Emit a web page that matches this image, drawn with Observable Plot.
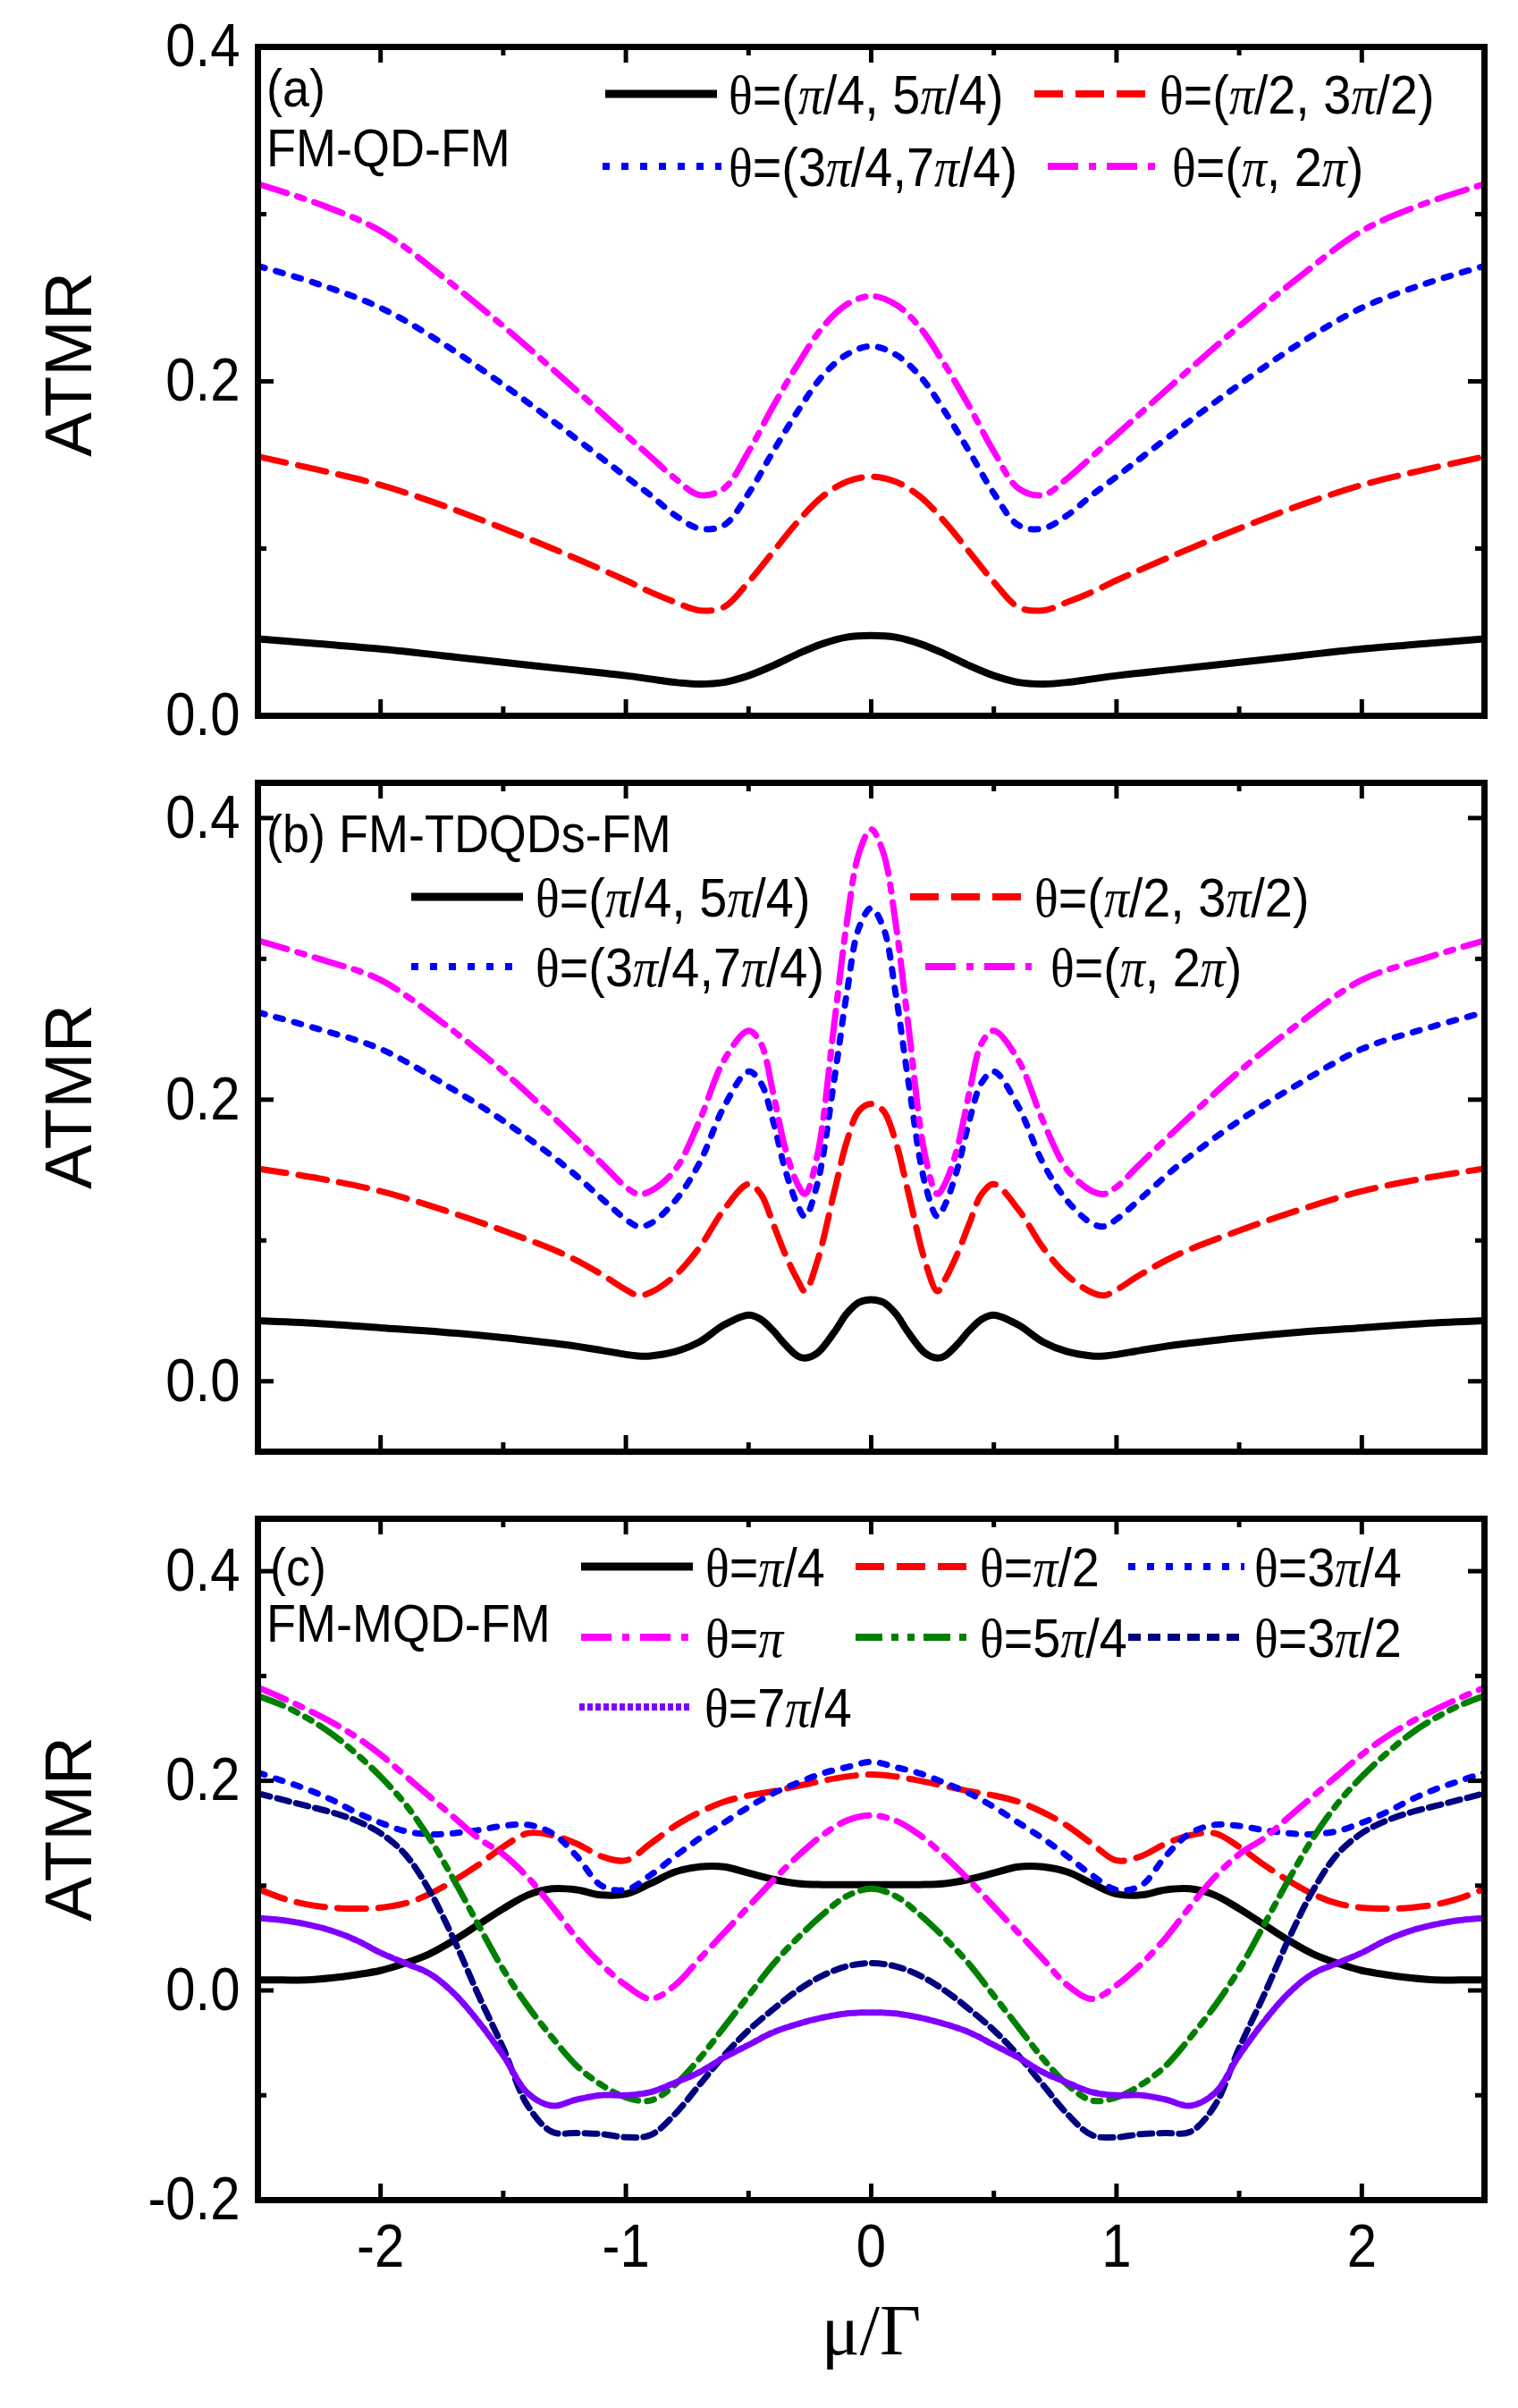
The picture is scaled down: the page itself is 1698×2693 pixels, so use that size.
<!DOCTYPE html>
<html>
<head>
<meta charset="utf-8">
<script src="https://cdn.jsdelivr.net/npm/d3@7"></script>
<script src="https://cdn.jsdelivr.net/npm/@observablehq/plot@0.6"></script>
<style>
  body { margin: 0; background: #fff; }
  #chart svg { display: block; }
</style>
</head>
<body>
<div id="chart"></div>
<script>
// ---- panel (a) FM-QD-FM ----
const xA = [-2.5,-2.25,-2,-1.75,-1.5,-1.25,-1,-0.9,-0.8,-0.7,-0.6,-0.5,-0.4,-0.3,-0.2,-0.1,0,
  0.1,0.2,0.3,0.4,0.5,0.6,0.7,0.8,0.9,1,1.25,1.5,1.75,2,2.25,2.5];
const aPi4 = [.046,.043,.040,.036,.032,.028,.024,.022,.020,.019,.020,.024,.030,.037,.043,.047,.048,
  .047,.043,.037,.030,.024,.020,.019,.020,.022,.024,.028,.032,.036,.040,.043,.046];
const aPi2 = [.155,.147,.138,.126,.112,.097,.081,.074,.068,.063,.065,.080,.098,.116,.131,.140,.143,
  .140,.131,.116,.098,.080,.065,.063,.068,.074,.081,.097,.112,.126,.138,.147,.155];
const a3Pi4 = [.269,.258,.244,.223,.198,.171,.143,.132,.120,.112,.114,.133,.158,.182,.203,.216,.221,
  .216,.203,.182,.158,.133,.114,.112,.120,.132,.143,.171,.198,.223,.244,.258,.269];
const aPi = [.318,.306,.290,.263,.233,.201,.168,.155,.142,.132,.136,.158,.185,.210,.232,.246,.251,
  .246,.232,.210,.185,.158,.136,.132,.142,.155,.168,.201,.233,.263,.290,.306,.318];

// ---- panel (b) FM-TDQDs-FM ----
const xB = [-2.5,-2.25,-2,-1.75,-1.5,-1.25,-1.1,-1,-0.95,-0.9,-0.8,-0.7,-0.6,-0.5,-0.45,-0.4,-0.35,-0.3,-0.27,-0.22,-0.15,-0.1,-0.05,0,
  0.05,0.1,0.15,0.22,0.27,0.3,0.35,0.4,0.45,0.5,0.6,0.7,0.8,0.9,0.95,1,1.1,1.25,1.5,1.75,2,2.25,2.5];
const bPi4 = [.043,.041,.038,.035,.031,.026,.022,.019,.018,.018,.021,.028,.040,.047,.044,.036,.026,.018,.0165,.020,.035,.048,.056,.058,
  .056,.048,.035,.020,.0165,.018,.026,.036,.044,.047,.040,.028,.021,.018,.018,.019,.022,.026,.031,.035,.038,.041,.043];
const bPi2 = [.151,.144,.135,.122,.107,.090,.076,.065,.061,.063,.075,.095,.122,.140,.133,.112,.090,.072,.064,.085,.135,.170,.192,.197,
  .192,.170,.135,.085,.064,.072,.090,.112,.133,.140,.122,.095,.075,.063,.061,.065,.076,.090,.107,.122,.135,.144,.151];
const b3Pi4 = [.262,.250,.236,.212,.185,.153,.130,.115,.110,.112,.128,.155,.195,.220,.212,.185,.150,.125,.117,.140,.215,.275,.322,.336,
  .322,.275,.215,.140,.117,.125,.150,.185,.212,.220,.195,.155,.128,.112,.110,.115,.130,.153,.185,.212,.236,.250,.262];
const bPi = [.313,.300,.285,.255,.220,.180,.155,.138,.133,.135,.150,.185,.228,.249,.240,.205,.165,.140,.133,.160,.255,.325,.375,.392,
  .375,.325,.255,.160,.133,.140,.165,.205,.240,.249,.228,.185,.150,.135,.133,.138,.155,.180,.220,.255,.285,.300,.313];

// ---- panel (c) FM-MQD-FM ----
const xC = [-2.5,-2.4,-2.3,-2.2,-2.1,-2,-1.9,-1.8,-1.7,-1.6,-1.5,-1.4,-1.3,-1.2,-1.1,-1,-0.9,-0.8,-0.7,-0.6,-0.5,-0.4,-0.3,-0.2,-0.1,0,
  0.1,0.2,0.3,0.4,0.5,0.6,0.7,0.8,0.9,1,1.1,1.2,1.3,1.4,1.5,1.6,1.7,1.8,1.9,2,2.1,2.2,2.3,2.4,2.5];
const cPi4 = [.010,.010,.010,.012,.015,.019,.026,.035,.048,.063,.078,.091,.097,.096,.091,.092,.102,.113,.118,.118,.112,.106,.102,.101,.101,.101,
  .101,.101,.102,.106,.112,.118,.118,.113,.102,.092,.091,.096,.097,.091,.078,.063,.048,.035,.026,.019,.015,.012,.010,.010,.010];
const cPi2 = [.097,.088,.082,.079,.078,.079,.083,.092,.105,.120,.137,.150,.148,.140,.128,.124,.140,.157,.170,.180,.186,.190,.195,.200,.204,.206,
  .204,.200,.195,.190,.186,.180,.170,.157,.140,.124,.128,.140,.148,.150,.137,.120,.105,.092,.083,.079,.078,.079,.082,.088,.097];
const c3Pi4 = [.208,.200,.192,.182,.170,.160,.152,.149,.150,.153,.157,.158,.150,.128,.100,.096,.110,.128,.145,.160,.175,.188,.198,.207,.213,.218,
  .213,.207,.198,.188,.175,.160,.145,.128,.110,.096,.100,.128,.150,.158,.157,.153,.150,.149,.152,.160,.170,.182,.192,.200,.208];
const cPi = [.289,.279,.268,.256,.242,.225,.205,.185,.165,.145,.130,.108,.080,.050,.025,.005,-.008,.005,.030,.055,.080,.105,.128,.148,.162,.167,
  .162,.148,.128,.105,.080,.055,.030,.005,-.008,.005,.025,.050,.080,.108,.130,.145,.165,.185,.205,.225,.242,.256,.268,.279,.289];
const c5Pi4 = [.281,.272,.260,.245,.226,.204,.178,.145,.105,.062,.020,-.015,-.045,-.072,-.090,-.102,-.105,-.090,-.065,-.035,-.005,.025,.050,.072,.090,.097,
  .090,.072,.050,.025,-.005,-.035,-.065,-.090,-.105,-.102,-.090,-.072,-.045,-.015,.020,.062,.105,.145,.178,.204,.226,.245,.260,.272,.281];
const c3Pi2 = [.188,.182,.176,.170,.162,.150,.130,.095,.048,-.005,-.055,-.110,-.135,-.136,-.137,-.140,-.138,-.118,-.090,-.062,-.038,-.018,.000,.014,.023,.026,
  .023,.014,.000,-.018,-.038,-.062,-.090,-.118,-.138,-.140,-.137,-.136,-.135,-.110,-.055,-.005,.048,.095,.130,.150,.162,.170,.176,.182,.188];
const c7Pi4 = [.069,.067,.063,.057,.048,.036,.026,.016,-.003,-.030,-.062,-.098,-.110,-.104,-.100,-.100,-.097,-.088,-.078,-.064,-.052,-.040,-.032,-.026,-.022,-.021,
  -.022,-.026,-.032,-.040,-.052,-.064,-.078,-.088,-.097,-.100,-.100,-.104,-.110,-.098,-.062,-.030,-.003,.016,.026,.036,.048,.057,.063,.067,.069];

const labelsAB = ["θ=(π/4, 5π/4)", "θ=(π/2, 3π/2)", "θ=(3π/4,7π/4)", "θ=(π, 2π)"];
const labelsC = ["θ=π/4", "θ=π/2", "θ=3π/4", "θ=π", "θ=5π/4", "θ=3π/2", "θ=7π/4"];
const xMajor = [-2, -1, 0, 1, 2];
const xMinor = [-2.5, -1.5, -0.5, 0.5, 1.5, 2.5];

// line styles: black solid, red dash, blue dot, magenta dash-dot, green dash-dot-dot, navy short dash, violet
const lineStyles = [
  {stroke: "#000000", dash: null, w: 8},
  {stroke: "#ff0000", dash: "32,14", w: 7},
  {stroke: "#0000ff", dash: "8,13", w: 7},
  {stroke: "#ff00ff", dash: "34,12,8,12", w: 7},
  {stroke: "#008000", dash: "30,10,8,10,8,10", w: 7},
  {stroke: "#000080", dash: "14,8", w: 7},
  {stroke: "#7f00ff", dash: "6,3", w: 7}
];
const stylesAB = lineStyles.slice(0, 4);
const stylesC = lineStyles.slice(0, 7);

const W = 1698, ML = 288, MR = 38, FW = W - ML - MR;
const sans = "'Liberation Sans', Arial, sans-serif";
const serif = "'Liberation Serif', 'Times New Roman', serif";

// text with θ and π set in a serif face, squeezed a little like the original
function richText(g, label, x, y, size, squeeze) {
  const t = g.append("text")
    .attr("transform", `translate(${x},${y}) scale(${squeeze},1)`)
    .attr("dy", "0.35em").attr("font-size", size).attr("fill", "black");
  label.split(/([θπ])/).filter(s => s).forEach(s => {
    const sp = t.append("tspan").text(s);
    if (s === "θ") sp.attr("font-family", serif);
    if (s === "π") sp.attr("font-family", serif).attr("font-style", "italic");
  });
}

function panel(o) {
  const H = o.height - o.marginTop - o.marginBottom;
  const marks = [];
  o.series.forEach((ys, i) => {
    const st = o.styles[i];
    marks.push(Plot.line(ys, {
      x: o.x, y: d => d, stroke: st.stroke, strokeWidth: st.w,
      strokeDasharray: st.dash || undefined, curve: "catmull-rom", clip: true
    }));
  });
  // inward ticks on all four sides
  marks.push(
    Plot.tickX(xMajor, {x: d => d, insetTop: H - 18, strokeWidth: 5}),
    Plot.tickX(xMajor, {x: d => d, insetBottom: H - 18, strokeWidth: 5}),
    Plot.tickX(xMinor, {x: d => d, insetTop: H - 10, strokeWidth: 5}),
    Plot.tickX(xMinor, {x: d => d, insetBottom: H - 10, strokeWidth: 5}),
    Plot.tickY(o.yMajor, {y: d => d, insetRight: FW - 18, strokeWidth: 5}),
    Plot.tickY(o.yMajor, {y: d => d, insetLeft: FW - 18, strokeWidth: 5}),
    Plot.tickY(o.yMinor, {y: d => d, insetRight: FW - 10, strokeWidth: 5}),
    Plot.tickY(o.yMinor, {y: d => d, insetLeft: FW - 10, strokeWidth: 5}),
    Plot.frame({strokeWidth: 7}),
    Plot.text(["ATMR"], {frameAnchor: "left", textAnchor: "middle", dx: -211, dy: o.labelDy,
      rotate: -90, fontSize: 75, text: d => d})
  );
  if (o.showX) {
    marks.push(Plot.text(["μ/Γ"], {frameAnchor: "bottom", textAnchor: "middle", dy: 172, fontSize: 80,
      fontFamily: serif, text: d => d}));
  }
  const chart = Plot.plot({
    width: W, height: o.height,
    marginLeft: ML, marginRight: MR, marginTop: o.marginTop, marginBottom: o.marginBottom,
    style: {fontFamily: sans, fontSize: "68px", background: "white", color: "black", overflow: "visible"},
    x: o.showX
      ? {domain: [-2.5, 2.5], ticks: xMajor, tickSize: 0, tickPadding: 26, tickFormat: d => String(d), label: null}
      : {domain: [-2.5, 2.5], axis: null},
    y: {domain: o.yDomain, ticks: o.yMajor, tickSize: 0, tickPadding: 20, tickFormat: d => d.toFixed(1), label: null},
    marks
  });
  const svg = d3.select(chart);
  // narrow the tick numbers like the original's condensed face
  svg.selectAll('g[aria-label$="tick label"] text').attr("transform", function () {
    return (this.getAttribute("transform") || "") + " scale(0.88,1)";
  });
  // panel notes and legend, in pixel space of the svg
  const g = svg.append("g").attr("font-family", sans).attr("text-anchor", "start");
  o.notes.forEach(n => richText(g, n.text, n.x, n.y, 60, 0.9));
  o.legend.forEach((it, i) => {
    const st = o.styles[i];
    g.append("line").attr("x1", it[0]).attr("x2", it[1]).attr("y1", it[3]).attr("y2", it[3])
      .attr("stroke", st.stroke).attr("stroke-width", st.w + 1)
      .attr("stroke-dasharray", st.dash);
    richText(g, o.labels[i], it[2], it[3], 62, 0.9);
  });
  d3.select("#chart").append(() => chart);
}

panel({
  x: xA, series: [aPi4, aPi2, a3Pi4, aPi], styles: stylesAB, labels: labelsAB,
  height: 830, marginTop: 52, marginBottom: 30,
  yDomain: [0, 0.4], yMajor: [0, 0.2, 0.4], yMinor: [0.1, 0.3], labelDy: -19,
  notes: [{text: "(a)", x: 298, y: 98}, {text: "FM-QD-FM", x: 298, y: 165}],
  legend: [[677, 802, 815, 105], [1157, 1289, 1297, 105], [674, 807, 815, 186], [1172, 1295, 1311, 186]],
  showX: false
});

panel({
  x: xB, series: [bPi4, bPi2, b3Pi4, bPi], styles: stylesAB, labels: labelsAB,
  height: 823, marginTop: 45, marginBottom: 30,
  yDomain: [-0.05, 0.425], yMajor: [0, 0.2, 0.4], yMinor: [0.1, 0.3], labelDy: -23,
  notes: [{text: "(b) FM-TDQDs-FM", x: 298, y: 102}],
  legend: [[460, 585, 599, 173], [1018, 1143, 1157, 173], [460, 585, 599, 251], [1035, 1154, 1175, 251]],
  showX: false
});

panel({
  x: xC, series: [cPi4, cPi2, c3Pi4, cPi, c5Pi4, c3Pi2, c7Pi4], styles: stylesC, labels: labelsC,
  height: 1040, marginTop: 45, marginBottom: 233,
  yDomain: [-0.2, 0.45], yMajor: [-0.2, 0, 0.2, 0.4], yMinor: [-0.1, 0.1, 0.3], labelDy: -34,
  notes: [{text: "(c)", x: 302, y: 99}, {text: "FM-MQD-FM", x: 298, y: 162}],
  legend: [[650, 775, 789, 99], [957, 1083, 1096, 99], [1262, 1392, 1403, 99],
           [650, 775, 789, 178], [957, 1083, 1096, 178], [1262, 1392, 1403, 178],
           [648, 773, 788, 256]],
  showX: true
});
</script>
</body>
</html>
